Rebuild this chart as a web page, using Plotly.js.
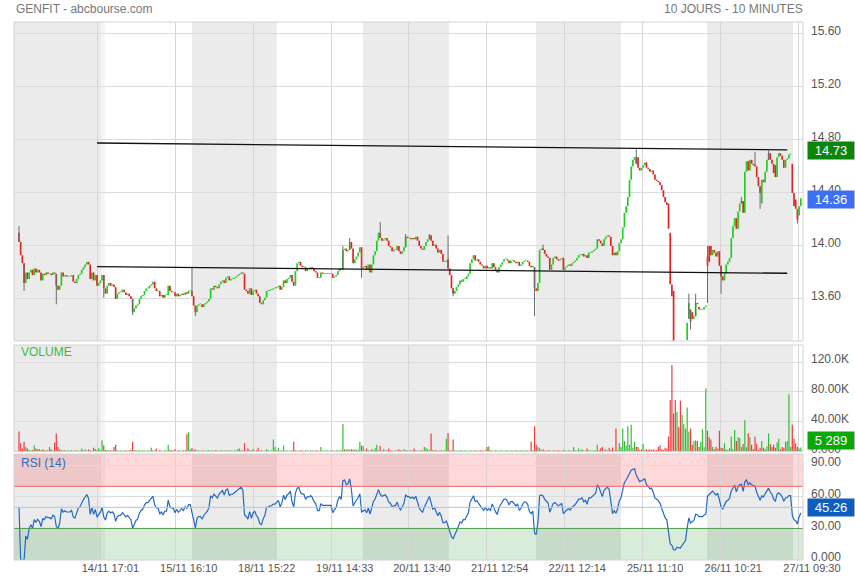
<!DOCTYPE html>
<html><head><meta charset="utf-8">
<script src="https://cdn.plot.ly/plotly-3.0.1.min.js"></script>
<style>html,body{margin:0;padding:0;background:#fff}#chart{width:855px;height:580px}</style>
</head><body><div id="chart"></div>
<script>
// ---- data (10-minute closes per trading day, 51 slots per day) ----
const c14=[null,null,14.03,13.93,13.87,13.72,13.80,13.75,13.80,13.82,13.78,13.83,13.80,13.82,13.80,13.74,13.79,13.78,13.80,13.79,13.79,13.78,13.80,13.79,13.70,13.67,13.70,13.80,13.77,13.78,13.77,13.77,13.77,13.78,13.73,13.72,13.75,13.78,13.79,13.82,13.84,13.86,13.88,13.86,13.75,13.80,13.74,13.78,13.70,13.72,13.74];
const c15=[13.78,13.68,13.64,13.70,13.72,13.70,13.71,13.69,13.60,13.64,13.65,13.65,13.67,13.65,13.63,13.64,13.62,13.60,13.50,13.53,13.55,13.56,13.60,13.62,13.63,13.66,13.68,13.68,13.70,13.71,13.73,13.68,13.66,13.66,13.62,13.63,13.61,13.63,13.63,13.70,13.66,13.65,13.65,13.62,13.64,13.62,13.63,13.64,13.63,13.65,13.64];
const c18=[13.66,13.66,13.62,13.55,13.50,13.55,13.56,13.56,13.54,13.56,13.57,13.58,13.60,13.68,13.67,13.70,13.69,13.68,13.71,13.73,13.74,13.72,13.76,13.77,13.74,13.75,13.75,13.76,13.77,13.78,13.79,13.80,13.79,13.67,13.66,13.64,13.68,13.63,13.66,13.67,13.64,13.62,13.57,13.56,13.59,13.61,13.66,13.66,13.67,13.67,13.68];
const c19=[13.68,13.69,13.70,13.67,13.69,13.74,13.72,13.75,13.76,13.78,13.73,13.70,13.81,13.87,13.88,13.85,13.84,13.84,13.81,13.83,13.83,13.84,13.83,13.81,13.80,13.76,13.76,13.80,13.79,13.79,13.79,13.79,13.79,13.79,13.76,13.77,13.78,13.81,13.83,13.82,13.97,13.98,13.96,13.97,14.03,13.98,13.87,13.90,13.92,13.95,13.99];
const c20=[13.83,13.84,13.85,13.82,13.86,13.80,13.86,13.93,13.96,14.04,14.10,14.06,14.04,14.05,14.06,14.04,14.00,13.99,13.96,13.97,13.97,14.00,13.96,13.94,13.96,13.99,14.07,14.06,14.06,14.05,14.06,14.05,14.07,14.04,14.00,13.98,13.97,14.00,14.03,14.05,14.08,14.04,14.00,14.01,13.98,13.95,13.97,13.94,13.88,13.88,13.89];
const c21=[13.83,13.78,13.68,13.64,13.66,13.69,13.71,13.74,13.73,13.75,13.75,13.77,13.79,13.87,13.90,13.93,13.89,13.90,13.88,13.86,13.85,13.83,13.85,13.83,13.84,13.83,13.87,13.84,13.82,13.80,13.84,13.86,13.88,13.90,13.90,13.89,13.87,13.89,13.89,13.88,13.87,13.88,13.85,13.86,13.88,13.89,13.89,13.88,13.85,13.84,13.85];
const c22=[13.68,13.66,13.72,13.97,13.98,13.97,13.94,13.92,13.91,13.82,13.86,13.91,13.92,13.90,13.89,13.90,13.91,13.82,13.84,13.85,13.86,13.85,13.87,13.88,13.89,13.91,13.93,13.93,13.94,13.92,13.93,13.91,13.95,13.95,13.96,13.97,13.98,14.05,14.04,14.02,14.00,14.05,14.07,14.08,14.07,14.00,13.93,13.95,13.93,13.96,14.02];
const c25=[14.05,14.14,14.25,14.30,14.37,14.50,14.60,14.65,14.67,14.62,14.59,14.57,14.59,14.61,14.63,14.59,14.58,14.56,14.57,14.54,14.50,14.49,14.48,14.46,14.42,14.37,14.33,14.31,14.13,13.71,13.62,13.24,13.21,13.24,13.22,13.19,13.22,13.25,13.27,13.42,13.57,13.43,13.45,13.47,13.57,13.56,13.52,13.52,13.52,13.54,13.55];
const c26=[13.85,13.88,13.93,13.97,13.95,13.92,13.96,13.85,13.77,13.74,13.79,13.86,13.88,13.91,14.06,14.15,14.21,14.13,14.26,14.32,14.34,14.25,14.56,14.64,14.57,14.65,14.62,14.61,14.60,14.52,14.45,14.40,14.50,14.48,14.56,14.65,14.70,14.65,14.62,14.55,14.52,14.67,14.70,14.68,14.65,14.59,14.65,14.66,14.69,14.69,14.40];
const c27=[14.30,14.28,14.20,14.30,14.36];

// volumes in thousands of shares
const v14=[0,0,26.7,11,4,13,6,4,2,1.8,2,8,4,3,3,1.5,3,1.8,1.2,1.5,6,3,1.2,12,24,6,3,2,1.2,1.5,1,1.5,1.2,1.5,1,1.3,1.5,1,1.2,4,1.5,2.7,1.2,2.7,1.5,1.2,5,3.5,1.5,4.5,2];
const v15=[15,8,2,2,1.5,1.8,1.2,6,9,1.5,1.2,1.5,1,1.2,1.5,1,1.5,2,13,2,1.5,1.2,1.5,1,1.5,1.2,1,1.5,1.2,5,1.5,1.2,4,1,1.5,1.2,1,1.5,1.2,9,2,1.5,1.2,3,1,1.5,1.2,1,1.8,1.5,23];
const v18=[26,3,5,1.5,2.7,1.2,1.5,1,1.2,1.5,1,1.2,1.5,1,1.2,1,1.5,1.2,1,1.5,1.2,1,1.5,1,1.2,1.5,1,1.2,1.5,3.5,4,1.5,1.5,11,1.2,4,1.5,1.2,3.5,1,1.5,5,1.2,1.5,1,1.2,3,1.5,1,1.5,16];
const v19=[6,1.5,5,1.2,1.5,8,1.2,1.5,1,1.2,1.5,13,1.5,1.2,1,1.5,1.2,1,1.5,1.2,1,1.5,1.2,1,1.5,1.2,1,6,1.2,1,1.5,1.2,1,1.5,1.2,1,1.5,1.8,1.2,1.5,37,3,2.5,3,2.5,3,2.5,3,2,2.5,13];
const v20=[8,7,1.5,4,1.5,1.2,3.5,1.5,4.5,9,1.5,7.5,1.2,3,1.5,1.2,4,1.5,1.2,1,1.5,1.2,3,1.5,1.2,3.5,1.5,1.2,1,1.5,1.2,4,1.5,1.2,1,1.5,1.2,6,5,3,1.5,24,1.5,1.2,1.5,1,1.2,1.5,1,1.5,17];
const v21=[25,1.5,1.2,16,1.5,1.2,1,1.5,1.2,1,1.5,1.2,1,1.5,1.2,1,1.5,1.2,1,1.5,1.2,1,1.5,6,6.7,1.5,1.2,1,1.5,1.2,1,1.5,1.2,1,1.5,1.2,1,1.5,1.2,1,1.5,1.2,1,1.5,1.2,1,1.5,1.2,1,13,1.5];
const v22=[34,9,6,4.5,1.5,3,1.2,1,1.5,1.2,1,1.5,1.2,1,1.5,1.2,1,1.5,1.2,1,1.5,1.2,1,6,1.5,1.2,4,1.5,3,1.2,1,4,1.5,1.2,1,1.5,1.2,9,1.5,4.5,6,1.5,3,1.2,5,1.5,5.3,1.2,31,1.5,11];
const v25=[6,31,14,8,34,9,36,5,13,6,6,2,3,10,2,3,2,3,2,3,2,2,6,8.5,3,2,5,4,20,69,116,51,69,53,33,68,49,37,31,59,27,31,9,14,15,14,6,13,30,6,85];
const v26=[28,19,16,6,3,6,4,28,5,4.5,11,3,2,4.5,20,3,29,14,19,18,6,10,42,6,24,19,9,3,20,10,2,5,14,5,3,7,24,10,6,9,5,12,17,3,6,5,13,14,77,6,36];
const v27=[17,11,6,4,5.289];

// opens that differ from the previous close, and visible wick extremes: [slot index, price]
const openGaps=[[2,14.10],[255,13.90],[306,13.84],[366,14.67],[367,14.67],[385,14.32],[386,14.10],[388,13.66],[396,13.29],[397,13.45],[398,13.52],[399,13.50],[403,13.54],[408,13.92],[409,14.00],[410,14.00],[440,14.32],[448,14.61],[458,14.62],[459,14.40],[460,14.35],[462,14.23]];
const highWicks=[[2,14.15],[104,13.84],[193,14.00],[197,14.06],[215,14.18],[230,14.09],[244,14.09],[255,14.08],[311,14.01],[366,14.73],[397,13.64],[401,13.64],[408,14.00],[428,14.37],[436,14.71],[444,14.72]];
const lowWicks=[[5,13.66],[24,13.56],[52,13.61],[69,13.48],[106,13.47],[204,13.76],[258,13.62],[306,13.47],[398,13.37],[408,13.57],[416,13.64],[439,14.28],[461,14.17]];

const tickIdx=[48.2,94.4,140.4,186.4,231.9,277.8,323.5,369.5,415.5,461.9];
const tickLabels=['14/11 17:01','15/11 16:10','18/11 15:22','19/11 14:33','20/11 13:40','21/11 12:54','22/11 12:14','25/11 11:10','26/11 10:21','27/11 09:30'];
const priceTicks=[13.6,14.0,14.4,14.8,15.2,15.6];
const volTicks=[0,40,80,120], volTickText=['0.000','40.00K','80.00K','120.0K'];
const rsiTicks=[0,30,60,90], rsiTickText=['0.000','30.00','60.00','90.00'];
const trendUpper=[[48,14.777],[455,14.725]];
const trendLower=[[48,13.844],[455,13.794]];
const refPrice=14.73, lastPrice=14.36, lastVolText='5 289', lastRsiText='45.26';

// ---- build series ----
const SLOTS=51;
const closesByDay=[c14,c15,c18,c19,c20,c21,c22,c25,c26,c27];
const volsByDay=[v14,v15,v18,v19,v20,v21,v22,v25,v26,v27];
const X=[],C=[],V=[];
closesByDay.forEach((arr,d)=>arr.forEach((c,j)=>{ if(c==null) return; X.push(d*SLOTS+j); C.push(c); V.push(volsByDay[d][j]); }));
const og=new Map(openGaps), hw=new Map(highWicks), lw=new Map(lowWicks);
const O=C.map((c,k)=> og.has(X[k]) ? og.get(X[k]) : (k===0 ? c : C[k-1]));
const up=C.map((c,k)=> c>=O[k]);
const GREEN='#22cc22', RED='#e32222';
const bodyBase=C.map((c,k)=>Math.min(c,O[k]));
const bodyH=C.map((c,k)=>Math.max(Math.abs(c-O[k]),0.006));
const wx=[],wy=[];
X.forEach((x,k)=>{
  const hi=Math.max(O[k],C[k], hw.has(x)?hw.get(x):-1e9);
  const lo=Math.min(O[k],C[k], lw.has(x)?lw.get(x):1e9);
  if(hi>Math.max(O[k],C[k])||lo<Math.min(O[k],C[k])){wx.push(x,x,null);wy.push(lo,hi,null);}
});
// RSI(14), Wilder smoothing
const R=[]; let ag=0, al=0;
C.forEach((c,k)=>{
  if(k===0){R.push(50);return;}
  const d=c-C[k-1];
  ag=(ag*13+Math.max(d,0))/14; al=(al*13+Math.max(-d,0))/14;
  R.push(al===0?(ag===0?50:100):100-100/(1+ag/al));
});

// ---- layout ----
const F='Arial, "Liberation Sans", sans-serif';
// shaded (alternate) trading-day bands, in slot units
const grayBands=[[-6,50.4],[104.0,154.1],[204.8,255.5],[306.9,357.0],[407.7,458.4]];
const shapes=[];
const panels=['y domain','y2 domain','y3 domain'];
grayBands.forEach(([a,b])=>panels.forEach(p=>shapes.push({type:'rect',layer:'below',xref:'x',yref:p,x0:a,x1:b,y0:0,y1:1,fillcolor:'#ebebeb',line:{width:0}})));
panels.forEach(p=>shapes.push({type:'rect',layer:'below',xref:'x',yref:p,x0:50.4,x1:52.8,y0:0,y1:1,fillcolor:'#f5f5f5',line:{width:0}}));
shapes.push({type:'rect',layer:'below',xref:'x domain',yref:'y3',x0:0,x1:1,y0:70,y1:101,fillcolor:'rgba(255,0,0,0.15)',line:{width:0}});
shapes.push({type:'rect',layer:'below',xref:'x domain',yref:'y3',x0:0,x1:1,y0:0,y1:30,fillcolor:'rgba(0,128,0,0.15)',line:{width:0}});
[[70,'#f06464'],[50,'#a6c8ee'],[30,'#4c9a4c']].forEach(([v,col])=>shapes.push({type:'line',xref:'x domain',yref:'y3',x0:0,x1:1,y0:v,y1:v,line:{color:col,width:1}}));
[trendUpper,trendLower].forEach(t=>shapes.push({type:'line',xref:'x',yref:'y',x0:t[0][0],y0:t[0][1],x1:t[1][0],y1:t[1][1],line:{color:'#111',width:1.3}}));
panels.forEach(p=>shapes.push({type:'rect',xref:'paper',yref:p,x0:0,x1:1,y0:0,y1:1,line:{color:'#d2d2d2',width:1},fillcolor:'rgba(0,0,0,0)'}));

const traces=[
  {type:'scatter',mode:'lines',x:wx,y:wy,line:{color:'#6b6b6b',width:1},xaxis:'x',yaxis:'y',hoverinfo:'skip',connectgaps:false},
  {type:'bar',x:X,base:bodyBase,y:bodyH,width:1.0,marker:{color:up.map(u=>u?GREEN:RED),line:{width:0}},xaxis:'x',yaxis:'y',hoverinfo:'skip'},
  {type:'bar',x:X,y:V,width:0.7,marker:{color:up.map(u=>u?'#35bb35':'#f03a3a'),line:{width:0}},xaxis:'x',yaxis:'y2',hoverinfo:'skip'},
  {type:'scatter',mode:'lines',x:X,y:R,line:{color:'#2468c6',width:1.2},xaxis:'x',yaxis:'y3',hoverinfo:'skip'}
];

const axFont={family:F,size:12,color:'#555'};
const layout={
  width:855,height:580,margin:{l:14,r:52,t:22,b:20},
  paper_bgcolor:'#fff',plot_bgcolor:'#fff',showlegend:false,barmode:'overlay',hovermode:false,
  font:{family:F},
  xaxis:{anchor:'y3',range:[-0.94,464.3],tickvals:tickIdx,ticktext:tickLabels,showgrid:true,gridcolor:'#d6d6d6',zeroline:false,ticks:'',tickfont:{family:F,size:11,color:'#555'},showline:false,ticklabelshift:13},
  yaxis:{domain:[0.4071,1],range:[13.283,15.69],side:'right',tickvals:priceTicks,ticktext:priceTicks.map(v=>v.toFixed(2)),showgrid:true,gridcolor:'#dcdcdc',zeroline:false,ticks:'',tickfont:axFont,ticklabelstandoff:7,ticklabelshift:-3},
  yaxis2:{domain:[0.2017,0.3996],range:[0,143],side:'right',tickvals:volTicks,ticktext:volTickText,showgrid:true,gridcolor:'#dcdcdc',zeroline:false,ticks:'',tickfont:axFont,ticklabelstandoff:7,ticklabelshift:-3},
  yaxis3:{domain:[0,0.197],range:[0,100.7],side:'right',tickvals:rsiTicks,ticktext:rsiTickText,showgrid:true,gridcolor:'#dcdcdc',zeroline:false,ticks:'',tickfont:axFont,ticklabelstandoff:7,ticklabelshift:-3},
  shapes:shapes,
  annotations:[
    {xref:'paper',yref:'paper',x:0,y:1.025,xanchor:'left',yanchor:'middle',text:'GENFIT - abcbourse.com',showarrow:false,font:{family:F,size:12,color:'#777'}},
    {xref:'paper',yref:'paper',x:1.0025,y:1.025,xanchor:'right',yanchor:'middle',text:'10 JOURS - 10 MINUTES',showarrow:false,font:{family:F,size:12,color:'#777'}},
    {xref:'paper',yref:'paper',x:0.006,y:0.3866,xanchor:'left',yanchor:'middle',text:'VOLUME',showarrow:false,font:{family:F,size:12,color:'#3cba3c'}},
    {xref:'paper',yref:'paper',x:0.006,y:0.180,xanchor:'left',yanchor:'middle',text:'RSI (14)',showarrow:false,font:{family:F,size:12,color:'#2a6ebb'}},
    {xref:'paper',yref:'y',x:1.0055,y:refPrice,yshift:-1.5,xanchor:'left',yanchor:'middle',text:refPrice.toFixed(2),showarrow:false,bgcolor:'#0b860b',width:44,height:15,borderpad:1,font:{family:F,size:13,color:'#fff'}},
    {xref:'paper',yref:'y',x:1.0055,y:lastPrice,yshift:-1.5,xanchor:'left',yanchor:'middle',text:lastPrice.toFixed(2),showarrow:false,bgcolor:'#3e6ef2',width:44,height:15,borderpad:1,font:{family:F,size:13,color:'#fff'}},
    {xref:'paper',yref:'paper',x:1.0055,y:0.2212,xanchor:'left',yanchor:'middle',text:lastVolText,showarrow:false,bgcolor:'#08a808',width:44,height:15,borderpad:1,font:{family:F,size:13,color:'#fff'}},
    {xref:'paper',yref:'paper',x:1.0055,y:0.0985,xanchor:'left',yanchor:'middle',text:lastRsiText,showarrow:false,bgcolor:'#0d5fbf',width:44,height:15,borderpad:1,font:{family:F,size:13,color:'#fff'}}
  ]
};
Plotly.newPlot('chart',traces,layout,{staticPlot:true,displayModeBar:false});
</script></body></html>
